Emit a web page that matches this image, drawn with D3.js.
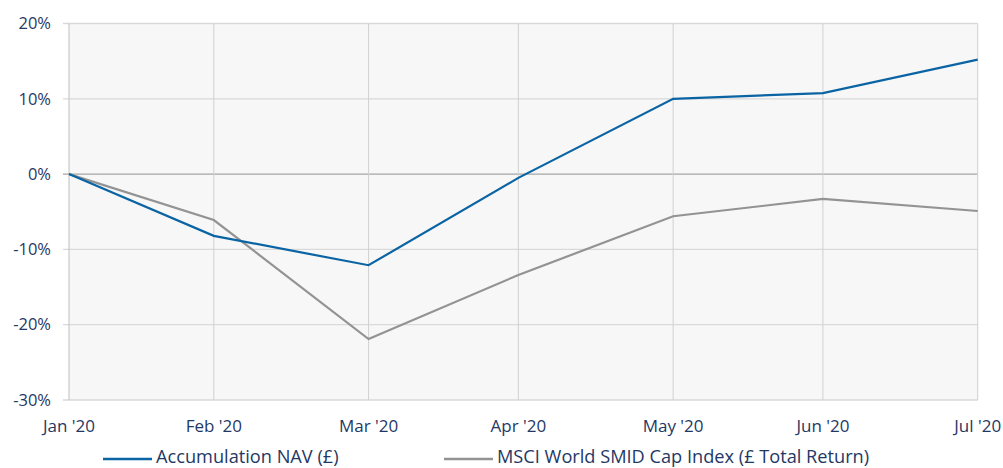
<!DOCTYPE html>
<meta charset="utf-8">
<script src="https://d3js.org/d3.v7.min.js"></script>
<style>
  body { margin: 0; background: #fff; }
  text { font-family: "Open Sans", sans-serif; fill: #1f3864; }
</style>
<div id="chart"></div>
<script>
// data (month-end values, % return)
const months = ["2020-01-31", "2020-02-29", "2020-03-31", "2020-04-30", "2020-05-31", "2020-06-30", "2020-07-31"];
const monthLabels = ["Jan '20", "Feb '20", "Mar '20", "Apr '20", "May '20", "Jun '20", "Jul '20"];
const navValues = [0, -8.2, -12.1, -0.5, 10.0, 10.75, 15.2];
const msciValues = [0, -6.1, -21.9, -13.4, -5.6, -3.3, -4.9];
const yTicks = [20, 10, 0, -10, -20, -30];
const seriesNames = ["Accumulation NAV (£)", "MSCI World SMID Cap Index (£ Total Return)"];

const W = 1003, H = 468;
const margin = {top: 23.5, right: 25.3, bottom: 68, left: 69};
const width = W - margin.left - margin.right,
      height = H - margin.top - margin.bottom;

const svg = d3.select("#chart").append("svg")
    .attr("width", W).attr("height", H);
const g = svg.append("g")
    .attr("transform", `translate(${margin.left},${margin.top})`);

const parse = d3.timeParse("%Y-%m-%d");
const dates = months.map(parse);

const x = d3.scaleTime().domain(d3.extent(dates)).range([0, width]);
const y = d3.scaleLinear().domain([-30, 20]).range([height, 0]);

// plot background
g.append("rect").attr("width", width).attr("height", height).attr("fill", "#f7f7f7");

// horizontal grid
g.selectAll(".hgrid").data(yTicks).join("line")
    .attr("x1", -6).attr("x2", width)
    .attr("y1", d => y(d)).attr("y2", d => y(d))
    .attr("stroke", d => d === 0 ? "#a6a6a6" : "#d9d9d9")
    .attr("stroke-width", 1.3);

// vertical grid
g.selectAll(".vgrid").data(dates).join("line")
    .attr("x1", d => x(d)).attr("x2", d => x(d))
    .attr("y1", 0).attr("y2", height)
    .attr("stroke", (d, i) => i === 0 ? "#bfbfbf" : "#d0d0d0")
    .attr("stroke-width", 1);

// y labels
g.selectAll(".ylab").data(yTicks).join("text")
    .attr("x", -18).attr("y", d => y(d))
    .attr("dy", "0.35em")
    .attr("text-anchor", "end")
    .style("font-size", "16.5px")
    .text(d => d + "%");

// x labels
g.selectAll(".xlab").data(dates).join("text")
    .attr("x", d => x(d)).attr("y", height + 32)
    .attr("text-anchor", "middle")
    .style("font-size", "17px")
    .text((d, i) => monthLabels[i]);

const line = d3.line()
    .x((d, i) => x(dates[i]))
    .y(d => y(d));

g.append("path").datum(msciValues)
    .attr("d", line).attr("fill", "none")
    .attr("stroke", "#939393").attr("stroke-width", 2.2);

g.append("path").datum(navValues)
    .attr("d", line).attr("fill", "none")
    .attr("stroke", "#0a64a4").attr("stroke-width", 2.2);

// legend
const legend = svg.append("g").attr("transform", "translate(0,459)");
const legendItems = [
  {name: seriesNames[0], color: "#0a64a4", x: 103},
  {name: seriesNames[1], color: "#939393", x: 444}
];
legendItems.forEach(it => {
  legend.append("line")
      .attr("x1", it.x).attr("x2", it.x + 49)
      .attr("y1", 0).attr("y2", 0)
      .attr("stroke", it.color).attr("stroke-width", 2.5);
  legend.append("text")
      .attr("x", it.x + 53).attr("y", 4)
      .style("font-size", "18.2px")
      .text(it.name);
});
</script>
